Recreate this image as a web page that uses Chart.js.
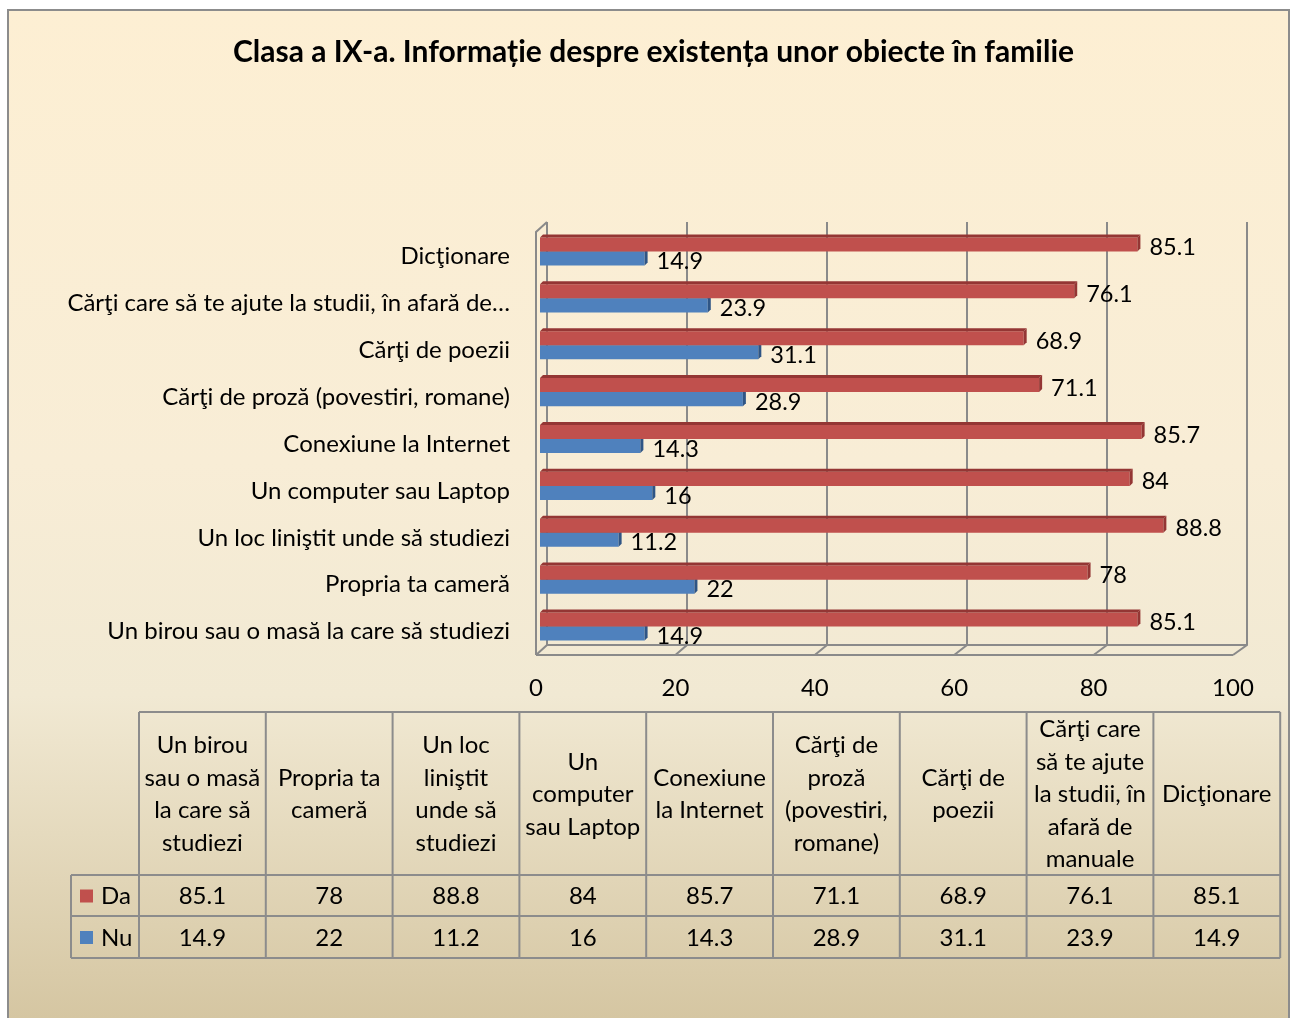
<!DOCTYPE html>
<html>
<head>
<meta charset="utf-8">
<script src="https://cdn.jsdelivr.net/npm/chart.js@4.4.0/dist/chart.umd.min.js"></script>
<style>
    html, body { margin: 0; padding: 0; background: #fff; }
    #cadru { position: absolute; left: 0; top: 0; width: 1291px; height: 1018px; }
</style>
</head>
<body>
<div id="cadru"><canvas id="grafic" width="1291" height="1018"></canvas></div>
<script>
const titlu = 'Clasa a IX-a. Informație despre existența unor obiecte în familie';

// ordinea din tabel (de jos in sus pe grafic)
const categorii = [
    'Un birou sau o masă la care să studiezi',
    'Propria ta cameră',
    'Un loc liniştit unde să studiezi',
    'Un computer sau Laptop',
    'Conexiune la Internet',
    'Cărţi de proză (povestiri, romane)',
    'Cărţi de poezii',
    'Cărţi care să te ajute la studii, în afară de manuale',
    'Dicţionare'
];
const eticheteTabel = [
    'Un birou\nsau o masă\nla care să\nstudiezi',
    'Propria ta\ncameră',
    'Un loc\nliniştit\nunde să\nstudiezi',
    'Un\ncomputer\nsau Laptop',
    'Conexiune\nla Internet',
    'Cărţi de\nproză\n(povestiri,\nromane)',
    'Cărţi de\npoezii',
    'Cărţi care\nsă te ajute\nla studii, în\nafară de\nmanuale',
    'Dicţionare'
];
const serii = ['Da', 'Nu'];
const valoriDa = [85.1, 78, 88.8, 84, 85.7, 71.1, 68.9, 76.1, 85.1];
const valoriNu = [14.9, 22, 11.2, 16, 14.3, 28.9, 31.1, 23.9, 14.9];

const culori = ['#C0504D', '#4F81BD'];
const culoriAdanc = ['#943634', '#2F5585'];
const FONT = 'Lato';

Chart.defaults.font.family = FONT;
Chart.defaults.color = '#000';

// fundal cu gradient si chenar
const fundal = {
    id: 'fundal',
    beforeDraw(chart) {
        const ctx = chart.ctx;
        ctx.save();
        ctx.fillStyle = '#fff';
        ctx.fillRect(0, 0, chart.width, chart.height);
        const g = ctx.createLinearGradient(0, 10, 0, chart.height);
        g.addColorStop(0, '#FDEFD3');
        g.addColorStop(0.45, '#F8EDD6');
        g.addColorStop(0.68, '#F1E9D3');
        g.addColorStop(1, '#D5C6A2');
        ctx.fillStyle = g;
        ctx.fillRect(9, 11, 1280, chart.height);
        ctx.strokeStyle = '#8C8C8C';
        ctx.lineWidth = 2;
        ctx.strokeRect(8, 10, 1281, chart.height + 20);
        ctx.restore();
    }
};

// peretii 3D, liniile de grila si etichetele axei X
const pereti = {
    id: 'pereti',
    beforeDatasetsDraw(chart) {
        const { ctx, chartArea: a, scales: { x } } = chart;
        const fx = v => x.getPixelForValue(v) - 4 - 0.05 * v;
        const bx = v => x.getPixelForValue(v) + 7 - 0.02 * v;
        const sus = a.top - 6, jos = a.bottom - 5, josF = a.bottom + 5;
        const valori = x.ticks.map(t => t.value);
        ctx.save();
        ctx.strokeStyle = '#8A8A8A';
        ctx.lineWidth = 2;
        ctx.beginPath();
        valori.forEach(v => {
            ctx.moveTo(bx(v), sus);
            ctx.lineTo(bx(v), jos);
            ctx.lineTo(fx(v), josF);
        });
        ctx.moveTo(fx(0), josF);
        ctx.lineTo(fx(0), a.top + 4);
        ctx.lineTo(bx(0), sus);
        ctx.moveTo(fx(0), josF);
        ctx.lineTo(fx(100), josF);
        ctx.moveTo(bx(0), jos);
        ctx.lineTo(bx(100), jos);
        ctx.stroke();

        ctx.fillStyle = '#000';
        ctx.font = '24px ' + FONT;
        ctx.textAlign = 'center';
        ctx.textBaseline = 'middle';
        valori.forEach(v => ctx.fillText(String(v), fx(v), a.bottom + 38));
        ctx.restore();
    }
};

// fetele 3D ale barelor si etichetele valorilor
const bare3d = {
    id: 'bare3d',
    afterDatasetDraw(chart, args) {
        const ctx = chart.ctx;
        const d = 3;
        ctx.save();
        ctx.fillStyle = culoriAdanc[args.index];
        args.meta.data.forEach(el => {
            const { x, y, base, height } = el.getProps(['x', 'y', 'base', 'height'], true);
            const t = y - height / 2, b = y + height / 2;
            ctx.beginPath();
            ctx.moveTo(base, t);
            ctx.lineTo(base + d, t - d);
            ctx.lineTo(x + d, t - d);
            ctx.lineTo(x, t);
            ctx.closePath();
            ctx.fill();
            ctx.beginPath();
            ctx.moveTo(x, t);
            ctx.lineTo(x + d, t - d);
            ctx.lineTo(x + d, b - d);
            ctx.lineTo(x, b);
            ctx.closePath();
            ctx.fill();
        });
        ctx.restore();
    },
    afterDatasetsDraw(chart) {
        const ctx = chart.ctx;
        ctx.save();
        ctx.fillStyle = '#000';
        ctx.font = '23.5px ' + FONT;
        ctx.textAlign = 'left';
        ctx.textBaseline = 'middle';
        chart.data.datasets.forEach((ds, i) => {
            chart.getDatasetMeta(i).data.forEach((el, j) => {
                ctx.fillText(String(ds.data[j]), el.x + 12, el.y + 3);
            });
        });
        ctx.restore();
    }
};

// tabelul de date de sub grafic
const tabel = {
    id: 'tabel',
    afterDraw(chart) {
        const ctx = chart.ctx;
        const x0 = 139, colW = 126.8, xLeg = 71;
        const yH = 712, yDa = 875, yNu = 916, yEnd = 958;
        const xEnd = x0 + colW * categorii.length;
        ctx.save();
        ctx.strokeStyle = '#8C8C8C';
        ctx.lineWidth = 2;
        ctx.beginPath();
        ctx.moveTo(x0, yH); ctx.lineTo(xEnd, yH);
        [yDa, yNu, yEnd].forEach(y => { ctx.moveTo(xLeg, y); ctx.lineTo(xEnd, y); });
        ctx.moveTo(xLeg, yDa); ctx.lineTo(xLeg, yEnd);
        for (let i = 0; i <= categorii.length; i++) {
            ctx.moveTo(x0 + i * colW, yH);
            ctx.lineTo(x0 + i * colW, yEnd);
        }
        ctx.stroke();

        ctx.fillStyle = '#000';
        ctx.font = '24px ' + FONT;
        ctx.textAlign = 'center';
        ctx.textBaseline = 'middle';
        const lh = 32.5;
        eticheteTabel.forEach((txt, i) => {
            const linii = txt.split('\n');
            const cx = x0 + i * colW + colW / 2;
            const cy = (yH + yDa) / 2 - (linii.length - 1) * lh / 2;
            linii.forEach((l, k) => ctx.fillText(l, cx, cy + k * lh + 1));
        });

        const randuri = [[valoriDa, (yDa + yNu) / 2], [valoriNu, (yNu + yEnd) / 2]];
        randuri.forEach(([vals, cy], r) => {
            vals.forEach((v, i) => ctx.fillText(String(v), x0 + i * colW + colW / 2, cy + 1));
            ctx.fillStyle = culori[r];
            ctx.fillRect(80, cy - 6, 13, 13);
            ctx.fillStyle = '#000';
            ctx.textAlign = 'left';
            ctx.fillText(serii[r], 101, cy + 1);
            ctx.textAlign = 'center';
        });
        ctx.restore();
    }
};

const ctx = document.getElementById('grafic').getContext('2d');
new Chart(ctx, {
    type: 'bar',
    data: {
        labels: categorii.slice().reverse(),
        datasets: [{
            label: serii[0],
            data: valoriDa.slice().reverse(),
            backgroundColor: culori[0],
            borderWidth: 0
        }, {
            label: serii[1],
            data: valoriNu.slice().reverse(),
            backgroundColor: culori[1],
            borderWidth: 0
        }]
    },
    options: {
        indexAxis: 'y',
        responsive: false,
        devicePixelRatio: 1,
        animation: false,
        categoryPercentage: 0.6,
        barPercentage: 1.0,
        layout: { padding: { left: 65, right: 49, top: 10, bottom: 318 } },
        plugins: {
            legend: { display: false },
            tooltip: { enabled: false },
            title: {
                display: true,
                text: titlu,
                color: '#000',
                font: { family: FONT, size: 30, weight: 'bold' },
                padding: { top: 24, bottom: 158 }
            }
        },
        scales: {
            x: {
                min: 0,
                max: 100,
                ticks: { stepSize: 20, display: false },
                grid: { display: false },
                border: { display: false },
                afterFit: s => { s.height = 50; }
            },
            y: {
                grid: { display: false, drawTicks: false },
                border: { display: false },
                ticks: {
                    padding: 30,
                    labelOffset: 5,
                    color: '#000',
                    font: { family: FONT, size: 24 },
                    callback: function (val) {
                        const s = this.getLabelForValue(val);
                        return s.length > 45 ? s.slice(0, 45) + '…' : s;
                    }
                },
                afterFit: s => { s.width = 475; }
            }
        }
    },
    plugins: [fundal, pereti, bare3d, tabel]
});
</script>
</body>
</html>
